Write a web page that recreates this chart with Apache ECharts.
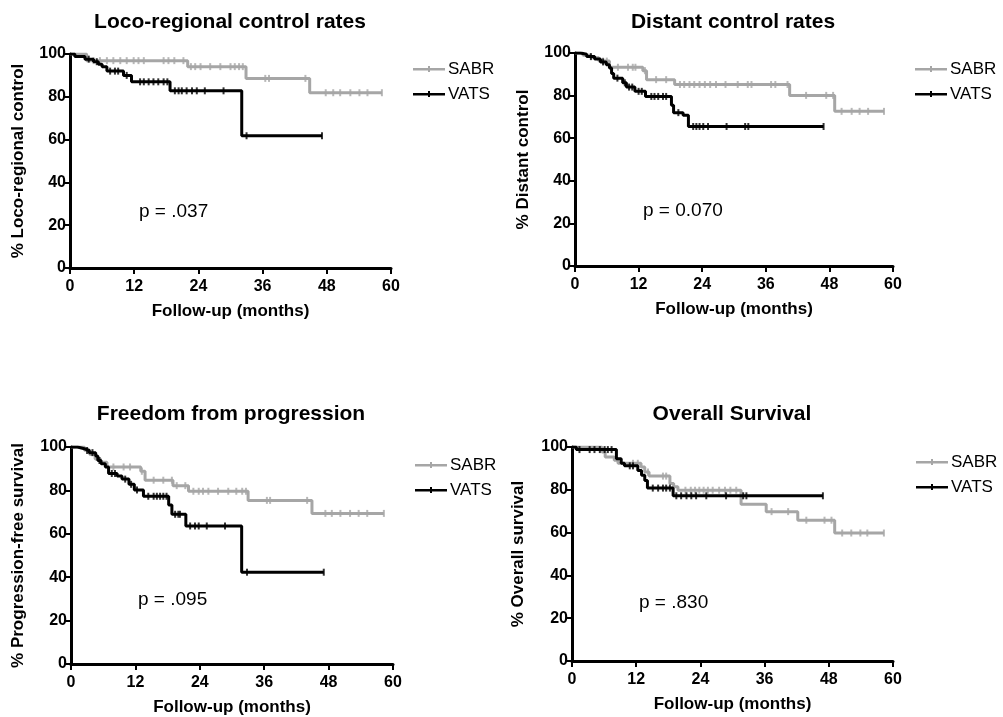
<!DOCTYPE html>
<html>
<head>
<meta charset="utf-8">
<script src="https://cdn.jsdelivr.net/npm/echarts@6/dist/echarts.min.js"></script>
<style>
html,body{margin:0;padding:0;background:#fff;}
#chart{width:1003px;height:717px;}
</style>
</head>
<body>
<div id="chart"></div>
<script>
// ---------- DATA ----------
const panelTitles = ['Loco-regional control rates', 'Distant control rates', 'Freedom from progression', 'Overall Survival'];
const yAxisNames = ['% Loco-regional control', '% Distant control', '% Progression-free survival', '% Overall survival'];
const xAxisName = 'Follow-up (months)';
const pValues = ['p = .037', 'p = 0.070', 'p = .095', 'p = .830'];
const groupNames = ['SABR', 'VATS'];
const xTickInterval = 12;   // ticks 0,12,24,36,48,60
const yTickInterval = 20;   // ticks 0..100

// Panel 1: loco-regional control
const lrcSabrTime = [0, 3.1, 22.0, 32.9, 44.8, 58.3];
const lrcSabrSurv = [100, 96.9, 94.1, 88.6, 81.9, 81.9];
const lrcSabrCens = [4.4, 5.6, 6.9, 8.1, 9.4, 10.6, 11.9, 12.8, 13.8, 17.5, 18.4, 19.5, 21.2, 22.6, 23.4, 24.4, 26.2, 28.1, 30.0, 30.8, 31.6, 32.3, 36.5, 37.2, 44.0, 47.8, 49.2, 50.5, 52.4, 54.1, 55.6, 58.3];
const lrcVatsTime = [0, 0.9, 2.8, 4.4, 5.3, 6.0, 6.9, 10.0, 11.5, 18.7, 32.1, 47.1];
const lrcVatsSurv = [100, 98.8, 97.6, 96.4, 95.2, 94.0, 92.0, 90.0, 87.0, 82.8, 61.8, 61.8];
const lrcVatsCens = [3.5, 5.0, 7.5, 8.4, 9.0, 10.6, 13.1, 13.8, 14.7, 15.6, 16.5, 17.5, 18.2, 19.6, 20.3, 20.9, 21.8, 22.8, 23.7, 25.2, 28.7, 33.0, 47.1];

// Panel 2: distant control
const dcSabrTime = [0, 1.5, 3.0, 4.5, 6.5, 12.8, 13.5, 18.8, 40.5, 49.0, 58.3];
const dcSabrSurv = [100, 99.0, 97.8, 96.2, 93.3, 91.7, 87.5, 85.2, 80.1, 72.6, 72.6];
const dcSabrCens = [5.3, 6.0, 8.1, 10.0, 10.9, 11.4, 13.2, 15.3, 17.2, 19.8, 20.6, 21.6, 22.5, 23.5, 24.5, 25.5, 26.6, 28.4, 30.7, 32.6, 33.3, 37.0, 37.8, 40.1, 43.6, 47.4, 48.7, 50.3, 52.2, 53.7, 55.3, 58.3];
const dcVatsTime = [0, 1.0, 2.2, 3.7, 4.8, 5.9, 6.5, 6.9, 7.3, 9.0, 9.7, 11.3, 13.3, 18.2, 18.6, 20.4, 21.4, 46.9];
const dcVatsSurv = [100, 99.4, 98.3, 97.2, 95.8, 94.5, 93.0, 90.4, 88.2, 86.0, 84.0, 82.0, 79.6, 75.5, 72.0, 70.8, 65.5, 65.5];
const dcVatsCens = [3.0, 5.3, 8.0, 9.4, 10.2, 10.8, 12.0, 12.6, 14.4, 15.0, 15.7, 16.6, 17.2, 19.5, 22.3, 22.9, 23.5, 24.2, 25.1, 28.6, 32.1, 32.7, 46.9];

// Panel 3: freedom from progression
const pfsSabrTime = [0, 2.5, 3.5, 4.5, 5.5, 6.7, 13.0, 13.8, 19.0, 21.9, 33.0, 44.9, 58.3];
const pfsSabrSurv = [100, 98.5, 96.5, 94.5, 93.0, 90.8, 88.8, 84.7, 82.2, 79.6, 75.4, 69.4, 69.4];
const pfsSabrCens = [7.9, 9.8, 11.0, 13.2, 15.4, 17.2, 18.8, 19.7, 21.3, 22.8, 23.8, 24.6, 25.6, 27.4, 29.3, 30.8, 31.9, 32.6, 36.5, 37.1, 44.0, 47.4, 48.6, 50.2, 52.0, 53.6, 55.2, 58.3];
const pfsVatsTime = [0, 1.2, 2.5, 3.4, 4.6, 5.0, 5.6, 6.4, 7.0, 8.6, 9.5, 10.8, 11.8, 13.5, 18.2, 18.8, 21.4, 31.8, 47.1];
const pfsVatsSurv = [100, 99.2, 98.4, 97.4, 95.8, 93.8, 92.3, 90.8, 87.8, 86.6, 85.2, 82.8, 80.2, 77.3, 73.3, 69.0, 63.6, 42.3, 42.3];
const pfsVatsCens = [3.0, 4.0, 5.3, 7.6, 8.2, 10.1, 11.2, 12.3, 14.4, 15.4, 16.0, 16.6, 17.2, 17.8, 19.4, 20.0, 20.3, 22.2, 23.1, 23.8, 25.3, 28.7, 32.8, 47.1];

// Panel 4: overall survival
const osSabrTime = [0, 5.6, 6.2, 7.9, 8.6, 12.9, 13.6, 14.4, 18.3, 19.0, 19.8, 31.6, 36.3, 42.2, 49.1, 58.3];
const osSabrSurv = [100, 97.7, 95.3, 93.8, 92.4, 90.7, 88.3, 86.4, 83.0, 81.4, 79.8, 73.2, 69.8, 65.8, 59.8, 59.8];
const osSabrCens = [11.4, 12.3, 14.2, 17.0, 17.6, 21.2, 22.2, 23.0, 23.8, 24.6, 25.4, 26.3, 27.5, 28.6, 29.6, 30.7, 37.3, 40.4, 43.8, 47.2, 48.5, 50.5, 52.2, 53.9, 55.2, 58.3];
const osVatsTime = [0, 0.8, 8.3, 9.2, 9.8, 12.3, 13.0, 13.6, 14.1, 18.9, 46.9];
const osVatsSurv = [100, 98.8, 94.5, 92.4, 91.2, 89.0, 86.8, 84.4, 80.8, 77.2, 77.2];
const osVatsCens = [1.4, 3.3, 4.2, 5.2, 6.1, 6.7, 7.4, 10.8, 11.4, 15.1, 16.1, 17.0, 17.6, 18.3, 19.5, 20.4, 21.4, 22.3, 23.2, 25.1, 28.8, 32.0, 32.6, 46.9];

// ---------- LAYOUT / STYLE ----------
const FONT = "'Liberation Sans', Arial, Helvetica, sans-serif";
const colors = {SABR: '#a6a6a6', VATS: '#000000'};
const panels = [
  {grid: {left: 70, top: 54, width: 321, height: 214}, titleX: 230, titleY: 12, legend: {left: 413, top: 60}, p: {left: 139, top: 202}, nameGap: 43,
   curves: [[lrcSabrTime, lrcSabrSurv, lrcSabrCens], [lrcVatsTime, lrcVatsSurv, lrcVatsCens]]},
  {grid: {left: 575, top: 53, width: 318, height: 213}, titleX: 733, titleY: 12, legend: {left: 915, top: 60}, p: {left: 643, top: 201}, nameGap: 43,
   curves: [[dcSabrTime, dcSabrSurv, dcSabrCens], [dcVatsTime, dcVatsSurv, dcVatsCens]]},
  {grid: {left: 71, top: 447, width: 322, height: 217}, titleX: 231, titleY: 404, legend: {left: 415, top: 456}, p: {left: 138, top: 590}, nameGap: 44,
   curves: [[pfsSabrTime, pfsSabrSurv, pfsSabrCens], [pfsVatsTime, pfsVatsSurv, pfsVatsCens]]},
  {grid: {left: 572, top: 447, width: 321, height: 214}, titleX: 732, titleY: 404, legend: {left: 916, top: 453}, p: {left: 639, top: 593}, nameGap: 45,
   curves: [[osSabrTime, osSabrSurv, osSabrCens], [osVatsTime, osVatsSurv, osVatsCens]]}
];

function survAt(times, surv, t) {
  let v = surv[0];
  for (let i = 0; i < times.length; i++) { if (times[i] <= t) v = surv[i]; }
  return v;
}

const grids = [], xAxes = [], yAxes = [], series = [], titles = [], legends = [], graphics = [];
panels.forEach((p, i) => {
  grids.push(Object.assign({containLabel: false}, p.grid));
  xAxes.push({
    type: 'value', gridIndex: i, min: 0, max: 60, interval: xTickInterval,
    name: xAxisName, nameLocation: 'middle', nameGap: 35,
    nameTextStyle: {fontFamily: FONT, fontWeight: 'bold', fontSize: 17, color: '#000'},
    axisLine: {show: true, onZero: false, lineStyle: {color: '#000', width: 3}},
    axisTick: {show: true, length: 6, lineStyle: {color: '#000', width: 2}},
    axisLabel: {fontFamily: FONT, fontWeight: 'bold', fontSize: 16, color: '#000', margin: 11},
    splitLine: {show: false}
  });
  yAxes.push({
    type: 'value', gridIndex: i, min: 0, max: 100, interval: yTickInterval,
    name: yAxisNames[i], nameLocation: 'middle', nameGap: p.nameGap, nameRotate: 90,
    nameTextStyle: {fontFamily: FONT, fontWeight: 'bold', fontSize: 17, color: '#000'},
    axisLine: {show: true, onZero: false, lineStyle: {color: '#000', width: 3}},
    axisTick: {show: true, length: 5, lineStyle: {color: '#000', width: 2}},
    axisLabel: {fontFamily: FONT, fontWeight: 'bold', fontSize: 16, color: '#000', margin: 4},
    splitLine: {show: false}
  });
  p.curves.forEach((c, g) => {
    const name = groupNames[g];
    const [times, surv, cens] = c;
    series.push({
      name: name, type: 'line', step: 'end', xAxisIndex: i, yAxisIndex: i,
      data: times.map((t, k) => [t, surv[k]]),
      symbol: 'none', silent: true, animation: false,
      lineStyle: {color: colors[name], width: 3},
      itemStyle: {color: colors[name]},
      z: 2 + g
    });
    series.push({
      name: name + ' censored', type: 'scatter', xAxisIndex: i, yAxisIndex: i,
      data: cens.map(t => [t, survAt(times, surv, t)]),
      symbol: 'rect', symbolSize: [2, 7], silent: true, animation: false,
      itemStyle: {color: colors[name]},
      z: 2 + g
    });
  });
  titles.push({
    text: panelTitles[i], left: p.titleX, top: p.titleY, textAlign: 'center', padding: 0,
    textStyle: {fontFamily: FONT, fontWeight: 'bold', fontSize: 21, color: '#000'}
  });
  legends.push({
    data: groupNames, orient: 'vertical', left: p.legend.left, top: p.legend.top, padding: 0,
    itemWidth: 32, itemHeight: 8, itemGap: 7, selectedMode: false,
    icon: 'path://M0,3h32v2.6H0z M15,1h2v6h-2z',
    textStyle: {fontFamily: FONT, fontSize: 17, color: '#000', lineHeight: 18, padding: [0, 0, 0, -2]}
  });
  graphics.push({
    type: 'text', left: p.p.left, top: p.p.top,
    style: {text: pValues[i], font: '19px ' + FONT, fill: '#000'}
  });
});

const chart = echarts.init(document.getElementById('chart'), null, {renderer: 'canvas'});
chart.setOption({
  backgroundColor: '#ffffff',
  animation: false,
  title: titles,
  legend: legends,
  grid: grids,
  xAxis: xAxes,
  yAxis: yAxes,
  series: series,
  graphic: graphics
});
</script>
</body>
</html>
